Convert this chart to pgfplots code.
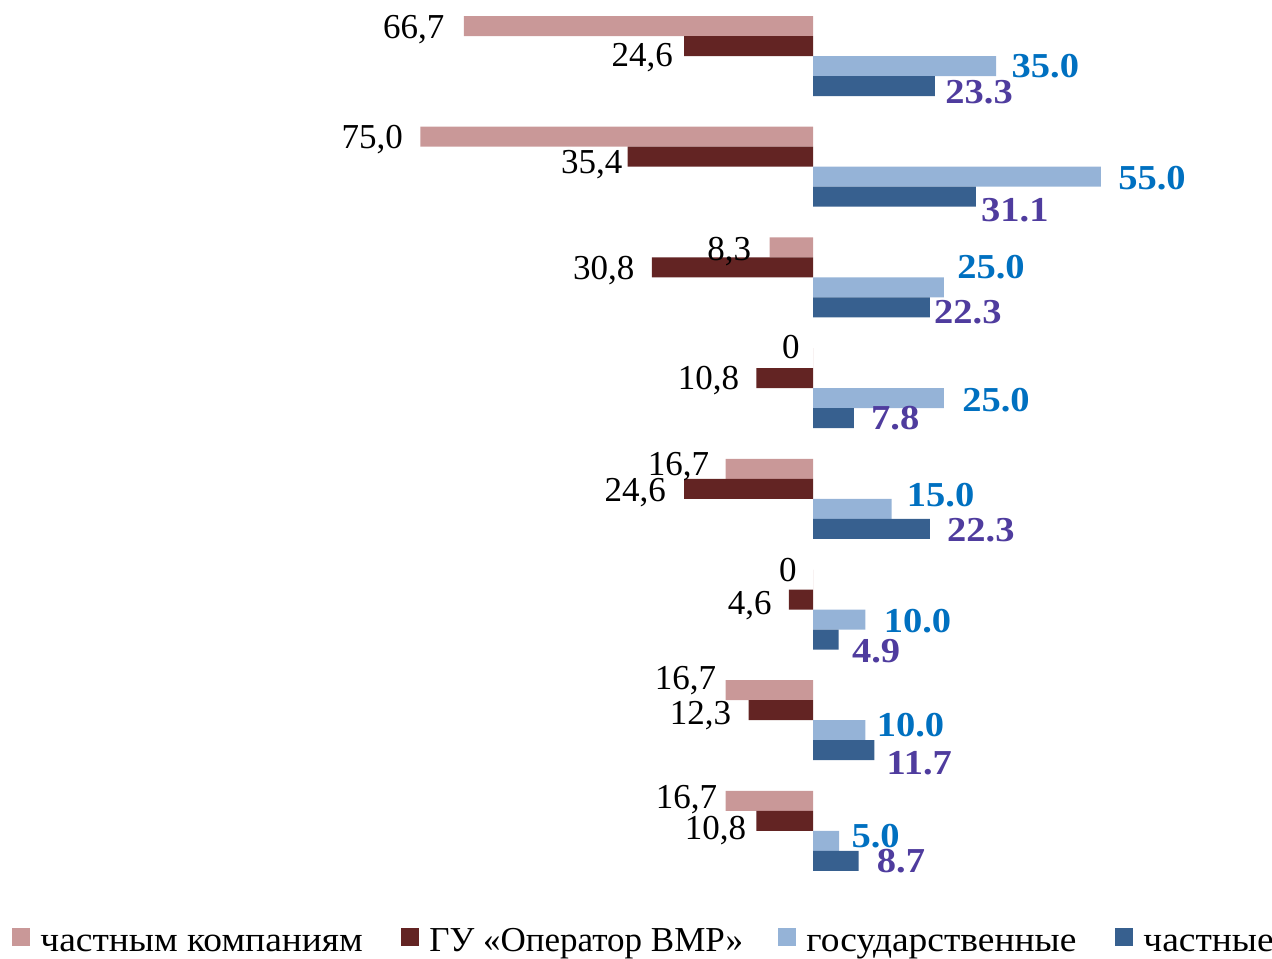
\documentclass[border=0pt]{standalone}
\usepackage{pgfplots}
\pgfplotsset{compat=1.18}
\usepackage{pgfplotstable}
\usepackage{fontspec}
\setmainfont{Liberation Serif}[BoldFeatures={FakeStretch=1.1}]
\newfontfamily\legfont{Liberation Serif}[FakeStretch=1.07]
\definecolor{cPink}{HTML}{C99898}
\definecolor{cDarkRed}{HTML}{632423}
\definecolor{cLightBlue}{HTML}{95B3D7}
\definecolor{cDarkBlue}{HTML}{37608F}
\definecolor{cLblBlue}{HTML}{0070C0}
\definecolor{cLblPurple}{HTML}{4F3C9E}
\newcommand{\lblfont}{\fontsize{17.5pt}{21pt}\selectfont}
% y = vertical position of bar centre (px from top), x = value, lab = label, dx/dy = label shift (pt)
\pgfplotstableread{
y x lab dx dy
26 -66.7 66,7 -9.5 -0.5
136.7 -75.0 75,0 -8.5 0
247.4 -8.3 8,3 -9 -0.5
358.1 0 0 -6.5 5.5
468.8 -16.7 16,7 -8 2.5
579.5 0 0 -8 5
690.2 -16.7 16,7 -4.5 6.5
800.9 -16.7 16,7 -4 2
}\tPink
\pgfplotstableread{
y x lab dx dy
46 -24.6 24,6 -5.5 -4.5
156.7 -35.4 35,4 -2.5 -2.5
267.4 -30.8 30,8 -8.5 0
378.1 -10.8 10,8 -8.5 0
488.8 -24.6 24,6 -9 -0.5
599.5 -4.6 4,6 -8.5 -1.5
710.2 -12.3 12,3 -8.5 -1
820.9 -10.8 10,8 -5 -3.5
}\tDarkRed
\pgfplotstableread{
y x lab dx dy
66 35.0 35.0 7.5 0
176.7 55.0 55.0 8.5 -0.5
287.4 25.0 25.0 6.5 10.5
398.1 25.0 25.0 9 -1
508.8 15.0 15.0 7.5 7
619.5 10.0 10.0 9 -0.5
730.2 10.0 10.0 5.5 3
840.9 5.0 5.0 6 2.5
}\tLightBlue
\pgfplotstableread{
y x lab dx dy
86 23.3 23.3 5 -3
196.7 31.1 31.1 2.5 -6.5
307.4 22.3 22.3 2 -2
418.1 7.8 7.8 8.5 0
528.8 22.3 22.3 8.5 -0.5
639.5 4.9 4.9 6.5 -5.5
750.2 11.7 11.7 6 -6
860.9 8.7 8.7 9 0
}\tDarkBlue
\pgfplotsset{
  lbl/.style={
    visualization depends on={\thisrow{dx} \as \lbldx},
    visualization depends on={\thisrow{dy} \as \lbldy},
    nodes near coords,
    nodes near coords style={inner sep=0pt, font=\lblfont,
      xshift=\lbldx*1pt, yshift=\lbldy*1pt-5.9pt}},
}
\begin{document}
\begin{tikzpicture}
\path[use as bounding box] (0,0) rectangle (636pt,479pt);
\begin{axis}[
  at={(0,0)}, anchor=south west,
  scale only axis, width=636pt, height=479pt,
  xmin=-155.3, xmax=87.68,
  ymin=0, ymax=958, y dir=reverse,
  hide axis, clip=false, enlargelimits=false,
  xbar, bar width=10pt, bar shift=0pt,
  point meta=explicit symbolic,
  legend columns=4,
  legend image code/.code={\fill[#1] (0pt,-1.5pt) rectangle (9pt,7.5pt);},
  legend style={at={(axis cs:-153.0,943)}, anchor=west, draw=none, fill=none,
    inner sep=0pt, font=\lblfont\legfont,
    nodes={inner sep=0pt, text height=12pt, text depth=4pt},
    /tikz/every odd column/.append style={column sep=5pt},
    /tikz/every even column/.append style={column sep=0pt}},
  legend cell align=left,
]
\addplot[draw=none, fill=cPink, lbl,
  nodes near coords style={anchor=base east, text=black}]
  table[x=x, y=y, meta=lab]{\tPink};
\addlegendentry{\makebox[180.5pt][l]{частным компаниям}}
\addplot[draw=none, fill=cDarkRed, lbl,
  nodes near coords style={anchor=base east, text=black}]
  table[x=x, y=y, meta=lab]{\tDarkRed};
\addlegendentry{\makebox[174.5pt][l]{\rmfamily ГУ «Оператор ВМР»}}
\addplot[draw=none, fill=cLightBlue, lbl,
  nodes near coords style={anchor=base west, font=\lblfont\bfseries, text=cLblBlue}]
  table[x=x, y=y, meta=lab]{\tLightBlue};
\addlegendentry{\makebox[154.5pt][l]{государственные}}
\addplot[draw=none, fill=cDarkBlue, lbl,
  nodes near coords style={anchor=base west, font=\lblfont\bfseries, text=cLblPurple}]
  table[x=x, y=y, meta=lab]{\tDarkBlue};
\addlegendentry{частные}
\end{axis}
\end{tikzpicture}
\end{document}
